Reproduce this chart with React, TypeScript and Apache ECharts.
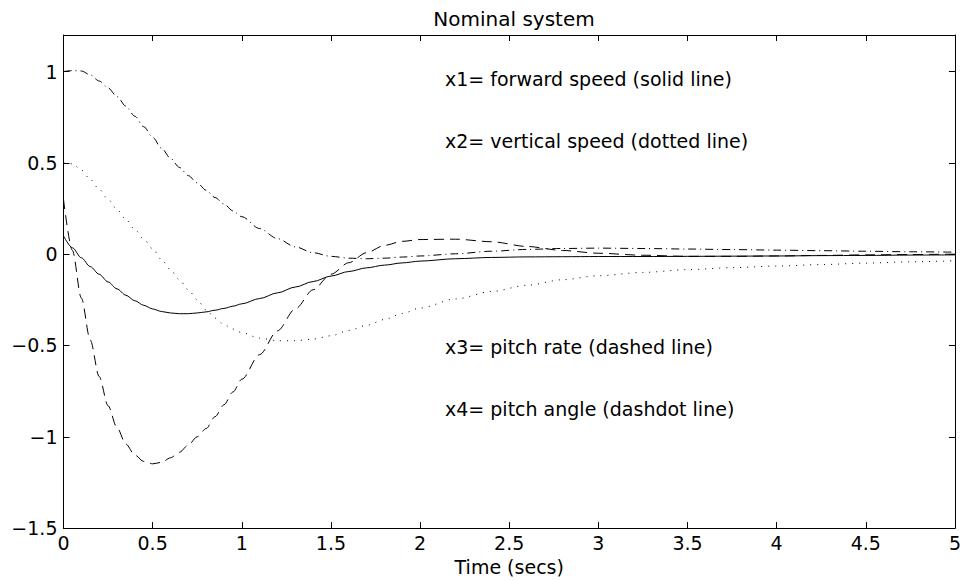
import React, { useEffect, useRef } from "react";
import * as echarts from "echarts";

const times = [0, 0.05, 0.1, 0.15, 0.2, 0.25, 0.3, 0.35, 0.4, 0.45, 0.5, 0.55, 0.6, 0.65, 0.7, 0.75, 0.8, 0.85, 0.9, 0.95, 1.0,
  1.1, 1.2, 1.3, 1.4, 1.5, 1.6, 1.7, 1.8, 1.9, 2.0,
  2.2, 2.4, 2.6, 2.8, 3.0,
  3.25, 3.5, 3.75, 4.0, 4.25, 4.5, 4.75, 5.0];

const forwardSpeed = [0.10, 0.035, -0.02, -0.068, -0.11, -0.152, -0.19, -0.225, -0.255, -0.28, -0.30, -0.314, -0.322, -0.326, -0.326, -0.322, -0.316, -0.307, -0.297, -0.285, -0.272,
  -0.243, -0.212, -0.18, -0.15, -0.12, -0.095, -0.075, -0.06, -0.048, -0.038,
  -0.025, -0.018, -0.015, -0.014, -0.013,
  -0.013, -0.012, -0.011, -0.01, -0.008, -0.007, -0.005, -0.004];

const verticalSpeed = [0.50, 0.495, 0.46, 0.41, 0.355, 0.30, 0.245, 0.19, 0.135, 0.082, 0.03, -0.03, -0.085, -0.14, -0.195, -0.25, -0.305, -0.35, -0.385, -0.41, -0.43,
  -0.46, -0.474, -0.474, -0.465, -0.447, -0.418, -0.39, -0.358, -0.325, -0.295,
  -0.245, -0.205, -0.17, -0.14, -0.118,
  -0.1, -0.085, -0.074, -0.065, -0.057, -0.049, -0.042, -0.036];

const pitchRate = [0.30, 0.02, -0.24, -0.47, -0.67, -0.83, -0.95, -1.04, -1.1, -1.135, -1.148, -1.14, -1.115, -1.085, -1.045, -1.0, -0.955, -0.89, -0.825, -0.755, -0.685,
  -0.55, -0.42, -0.30, -0.195, -0.11, -0.047, 0.008, 0.048, 0.07, 0.08,
  0.082, 0.068, 0.042, 0.02, 0.005,
  -0.006, -0.012, -0.012, -0.01, -0.007, -0.004, -0.002, 0.0];

const pitchAngle = [1.0, 1.005, 1.003, 0.982, 0.948, 0.91, 0.863, 0.81, 0.755, 0.698, 0.64, 0.58, 0.525, 0.475, 0.43, 0.39, 0.35, 0.31, 0.275, 0.237, 0.205,
  0.14, 0.085, 0.04, 0.008, -0.012, -0.022, -0.025, -0.022, -0.016, -0.01,
  0.002, 0.016, 0.026, 0.031, 0.033,
  0.031, 0.028, 0.025, 0.022, 0.019, 0.016, 0.013, 0.011];

const annotations = [
  "x1= forward speed (solid line)",
  "x2= vertical speed (dotted line)",
  "x3= pitch rate (dashed line)",
  "x4= pitch angle (dashdot line)",
];

const FONT = "DejaVu Sans";

export default function App() {
  const ref = useRef<HTMLDivElement>(null);
  useEffect(() => {
    if (!ref.current) return;
    const chart = echarts.init(ref.current, null, { renderer: "svg" });
    const pair = (ys: number[]) => times.map((t, i) => [t, ys[i]]);
    const fmt = (v: number) => String(v).replace("-", "\u2212");
    const axisCommon = {
      type: "value" as const,
      axisLine: { show: true, onZero: false, lineStyle: { color: "#000", width: 1 } },
      axisTick: { show: true, inside: true, length: 6, lineStyle: { color: "#000" } },
      splitLine: { show: false },
    };
    const lineSeries = (name: string, ys: number[], type: any) => ({
      name,
      type: "line",
      data: pair(ys),
      showSymbol: false,
      symbol: "none",
      smooth: 0.3,
      smoothMonotone: "x",
      lineStyle: { color: "#000", width: 1, type },
      xAxisIndex: 0,
      yAxisIndex: 0,
    });
    const textY = [80, 142, 348, 410];
    chart.setOption({
      animation: false,
      backgroundColor: "#fff",
      title: {
        text: "Nominal system",
        left: 509,
        top: 4,
        textAlign: "center",
        textStyle: { fontFamily: FONT, fontSize: 20, fontWeight: "normal", color: "#000" },
      },
      grid: { left: 63.5, right: 8, top: 35, bottom: 49, containLabel: false },
      xAxis: [
        {
          ...axisCommon,
          position: "bottom",
          min: 0,
          max: 5,
          interval: 0.5,
          name: "Time (secs)",
          nameLocation: "middle",
          nameGap: 25,
          nameTextStyle: { fontFamily: FONT, fontSize: 19, color: "#000" },
          axisLabel: { margin: 5, fontFamily: FONT, fontSize: 19, color: "#000", formatter: fmt },
        },
        {
          ...axisCommon,
          position: "top",
          min: 0,
          max: 5,
          interval: 0.5,
          axisLabel: { show: false },
        },
      ],
      yAxis: [
        {
          ...axisCommon,
          position: "left",
          min: -1.5,
          max: 1.2,
          interval: 0.5,
          axisLabel: { margin: 6, fontFamily: FONT, fontSize: 19, color: "#000", formatter: fmt, showMaxLabel: false },
        },
        {
          ...axisCommon,
          position: "right",
          min: -1.5,
          max: 1.2,
          interval: 0.5,
          axisLabel: { show: false },
        },
      ],
      graphic: annotations.map((t, i) => ({
        type: "text",
        left: 445,
        top: textY[i] - 11,
        style: { text: t, fontFamily: FONT, fontSize: 19, fill: "#000" },
      })),
      series: [
        lineSeries("x1", forwardSpeed, "solid"),
        lineSeries("x2", verticalSpeed, [1, 6]),
        lineSeries("x3", pitchRate, [10, 6]),
        lineSeries("x4", pitchAngle, [8, 4, 1, 4]),
      ],
    });
    return () => chart.dispose();
  }, []);
  return (
    <div
      ref={ref}
      style={{ position: "fixed", left: 0, top: 0, width: 964, height: 581, background: "#fff" }}
    />
  );
}
